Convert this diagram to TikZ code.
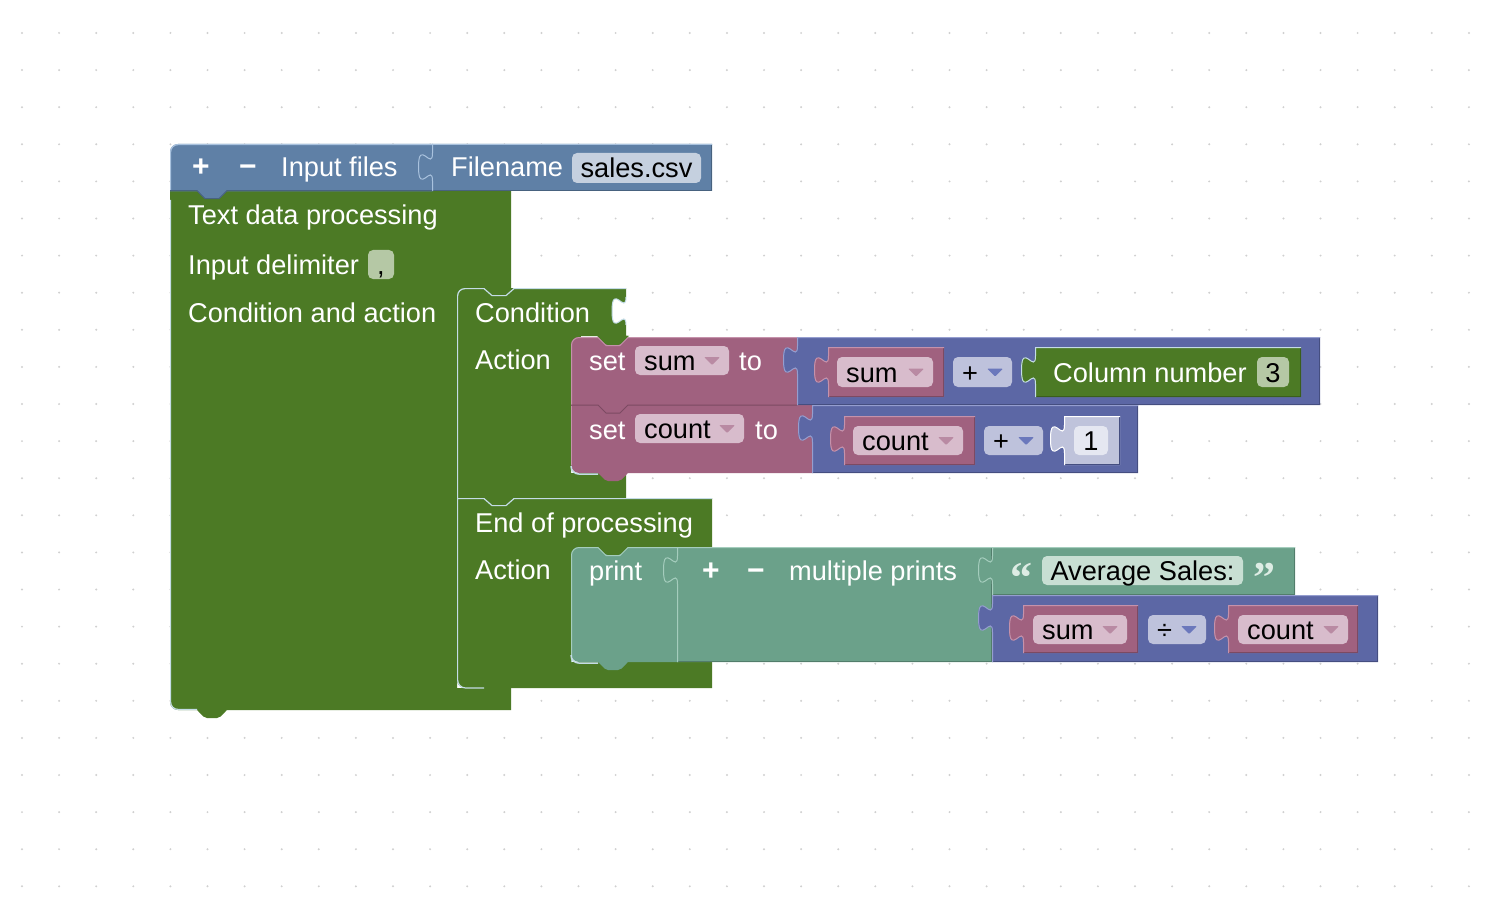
\documentclass[tikz,border=0pt]{standalone}
\usepackage{fontspec}
\setmainfont{Liberation Sans}
\newfontfamily\qfont{Liberation Serif}
\definecolor{bgdot}{HTML}{D0D0D0}
\definecolor{lst}{HTML}{5F80A6}
\definecolor{lstF}{HTML}{C5D0DF}
\definecolor{lstH}{HTML}{A9C2DE}
\definecolor{lstD}{HTML}{48627F}
\definecolor{grn}{HTML}{4C7A25}
\definecolor{grnF}{HTML}{B5C8A5}
\definecolor{grnH}{HTML}{C4DCE6}
\definecolor{grnD}{HTML}{3A5E1C}
\definecolor{mv}{HTML}{A0617F}
\definecolor{mvF}{HTML}{D8BCCC}
\definecolor{mvA}{HTML}{B98AA3}
\definecolor{mvH}{HTML}{C592AB}
\definecolor{mvD}{HTML}{7C4A62}
\definecolor{mth}{HTML}{5C67A5}
\definecolor{mthF}{HTML}{BEC2DC}
\definecolor{mthA}{HTML}{6B78BC}
\definecolor{mthH}{HTML}{959ECF}
\definecolor{mthD}{HTML}{454E80}
\definecolor{shd}{HTML}{BFC3DB}
\definecolor{shdF}{HTML}{E5E7F1}
\definecolor{tl}{HTML}{6BA18A}
\definecolor{tlF}{HTML}{C8DFD3}
\definecolor{tlH}{HTML}{A5CDBD}
\definecolor{tlD}{HTML}{527D6B}
\definecolor{tlQ}{HTML}{DDECE4}
% puzzle tab segments (x of edge, y of tab top)
\newcommand\bkTabDn[2]{.. controls ({#1},{#2+18.7}) and ({#1-14},{#2-14.9}) .. ({#1-14},{#2+14}) .. controls ({#1-14},{#2+42.9}) and ({#1},{#2+9.3}) .. ({#1},{#2+28})}
\newcommand\bkTabUp[2]{.. controls ({#1},{#2+9.3}) and ({#1-14},{#2+42.9}) .. ({#1-14},{#2+14}) .. controls ({#1-14},{#2-14.9}) and ({#1},{#2+18.7}) .. ({#1},{#2})}
% value block: fill, highlight, dark, x0,y0,x1,y1
\newcommand\bkVal[7]{%
  \fill[#1] ({#4},{#5}) -- ({#6},{#5}) -- ({#6},{#7}) -- ({#4},{#7}) -- ({#4},{#5+37}) \bkTabUp{#4}{#5+9} -- cycle;
  \draw[#3, line width=1pt] ({#4},{#7-0.5}) -- ({#6-0.5},{#7-0.5}) -- ({#6-0.5},{#5});
  \draw[#2, line width=1pt] ({#4+0.5},{#7}) -- ({#4+0.5},{#5+37}) \bkTabUp{#4+0.5}{#5+9} -- ({#4+0.5},{#5+0.5}) -- ({#6},{#5+0.5});}
% next tab: colour, block left x, bottom y
\newcommand\bkNext[3]{\fill[#1, rounded corners=2pt] ({#2+26},{#3-1.5}) -- ({#2+27},{#3}) -- ({#2+35},{#3+8}) -- ({#2+49},{#3+8}) -- ({#2+57},{#3}) -- ({#2+58},{#3-1.5}) -- cycle;}
% dropdown field: fill, arrow, x0,y0,x1,y1, text, name
\newcommand\bkDrop[8]{%
  \fill[#1, rounded corners=5pt] ({#3},{#4}) rectangle ({#5},{#6});
  \node[ftxt, anchor=base west] (#8) at ({#3+9},{(#4+#6)/2+10}) {#7};
  \fill[#2, rounded corners=1pt] ({#5-25},{(#4+#6)/2-3.5}) -- ({#5-9},{(#4+#6)/2-3.5}) -- ({#5-17},{(#4+#6)/2+4.5}) -- cycle;}
% text field: fill, x0,y0,x1,y1, text, name
\newcommand\bkFld[7]{%
  \fill[#1, rounded corners=5pt] ({#2},{#3}) rectangle ({#4},{#5});
  \node[ftxt] (#7) at ({(#2+#4)/2},{(#3+#5)/2+10}) {#6};}
\begin{document}
\begin{tikzpicture}[x=1pt,y=-1pt,
  lbl/.style={text=white, anchor=base west, inner sep=0pt, font=\fontsize{27.2}{30}\selectfont},
  ftxt/.style={text=black, anchor=base, inner sep=0pt, font=\fontsize{27.2}{30}\selectfont},
  pm/.style={text=white, anchor=base, inner sep=0pt, font=\fontsize{30}{32}\selectfont\bfseries},
  quo/.style={text=tlQ, anchor=base, inner sep=0pt, font=\fontsize{44}{46}\selectfont\qfont\bfseries}]
\useasboundingbox (0,0) rectangle (1502,920);
\fill[white] (0,0) rectangle (1502,920);
\foreach \i in {0,...,39}{\foreach \j in {0,...,23}{\fill[bgdot] ({22+37.1*\i},{33+37.1*\j}) circle[radius=1.1];}}

% ---- big green block
\fill[grn] (170,191) -- (511,191) -- (511,288) -- (457,288) -- (457,688) -- (511,688) -- (511,710) -- (178,710) .. controls (173.6,710) and (170,706.4) .. (170,702) -- cycle;
\bkNext{grn}{170}{710}
% ---- Condition block
\fill[grn] (457,288) -- (626,288) -- (626,297) \bkTabDn{626}{297} -- (626,336) -- (571,336) -- (571,473) -- (626,473) -- (626,498) -- (457,498) -- cycle;
\fill[grn] (570,335) rectangle (581,347);
% ---- End of processing block
\fill[grn] (457,498) -- (712,498) -- (712,547) -- (571,547) -- (571,662) -- (712,662) -- (712,688) -- (465,688) .. controls (460.6,688) and (457,684.4) .. (457,680) -- cycle;
\fill[grn] (570,546) rectangle (581,557);

% ---- set blocks
\fill[mv] (571,345) .. controls (571,340.6) and (574.6,337) .. (579,337) -- (797,337) -- (797,405.5) -- (571,405.5) -- cycle;
\fill[mv] (571,405) -- (812,405) -- (812,473) -- (579,473) .. controls (574.6,473) and (571,469.4) .. (571,465) -- cycle;
\bkNext{mv}{571}{473}
\bkNext{grn}{571}{337}
\draw[mvH, line width=1pt] (571.5,405) -- (571.5,345) .. controls (571.5,341) and (575,337.5) .. (579,337.5) -- (598,337.5) -- (606,345.5) -- (620,345.5) -- (628,337.5) -- (797,337.5);
\draw[mvD, line width=1pt] (571,405) -- (598,405) -- (606,413) -- (620,413) -- (628,405) -- (797,405);
\draw[mvH, line width=1pt] (571.5,405.5) -- (571.5,465);
\bkVal{mth}{mthH}{mthD}{797}{337}{1320}{405}
\bkVal{mth}{mthH}{mthD}{812}{405}{1138}{473}
\bkVal{mv}{mvH}{mvD}{828}{347}{944}{397}
\bkVal{grn}{grnH}{grnD}{1035}{347}{1301}{397}
\bkVal{mv}{mvH}{mvD}{844}{416}{975}{465}
\bkVal{shd}{white}{mthD}{1064}{416}{1120}{465}

% ---- print blocks
\fill[tl] (571,555) .. controls (571,550.6) and (574.6,547) .. (579,547) -- (678,547) -- (678,662) -- (579,662) .. controls (574.6,662) and (571,658.4) .. (571,654) -- cycle;
\bkNext{tl}{571}{662}
\bkNext{grn}{571}{547}
\draw[tlH, line width=1pt] (571.5,662) -- (571.5,555) .. controls (571.5,551) and (575,547.5) .. (579,547.5) -- (598,547.5) -- (606,555.5) -- (620,555.5) -- (628,547.5) -- (677,547.5);
\bkVal{tl}{tlH}{tlD}{677}{547}{992}{662}
\bkVal{tl}{tlH}{tlD}{992}{547}{1295}{595}
\bkVal{mth}{mthH}{mthD}{992}{595}{1378}{662}
\bkVal{mv}{mvH}{mvD}{1023}{605}{1138}{653}
\bkVal{mv}{mvH}{mvD}{1228}{605}{1358}{653}

% ---- top blue blocks
\fill[lst] (170,191.5) -- (170,152) .. controls (170,147.6) and (173.6,144) .. (178,144) -- (433,144) -- (433,191.5) -- cycle;
\bkVal{lst}{lstH}{lstD}{432}{144}{712}{191}
\bkNext{lst}{170}{191}
\draw[lstH, line width=1.2pt] (170.6,191) -- (170.6,152) .. controls (170.6,147.8) and (173.8,144.6) .. (178,144.6) -- (432,144.6);
\draw[lstD, line width=1pt] (170,190.6) -- (197,190.6) -- (205,198.6) -- (219,198.6) -- (227,190.6) -- (432,190.6);

% ---- green highlights
\draw[grnH, line width=1.2pt] (170.6,200) -- (170.6,702) .. controls (170.6,706.2) and (173.8,709.4) .. (178,709.4) -- (197,709.4);
\draw[grnH, line width=1.2pt] (457.6,498) -- (457.6,296) .. controls (457.6,291.8) and (460.8,288.6) .. (465,288.6) -- (484,288.6) -- (492,295.6) -- (506,295.6) -- (514,288.6) -- (626,288.6);
\draw[grnH, line width=1pt] (626,297) \bkTabDn{626}{297};
\draw[grnH, line width=1.2pt] (712,498.6) -- (514,498.6) -- (506,505.6) -- (492,505.6) -- (484,498.6) -- (457.6,498.6) -- (457.6,680) .. controls (457.6,684.4) and (461.2,688) .. (465.6,688) -- (484,688);
\draw[grnH, line width=1.5pt] (571,466) .. controls (571,471) and (574.5,474.2) .. (580,474.2) -- (598,474.2);
\draw[grnH, line width=1.5pt] (571,655) .. controls (571,660) and (574.5,663.2) .. (580,663.2) -- (598,663.2);

% ---- texts
\node[pm] (pl1) at (201,177) {+};
\node[pm] (mi1) at (248,177) {−};
\node[lbl] (inf) at (281,177) {Input files};
\node[lbl] (fnm) at (451,177) {Filename};
\bkFld{lstF}{572}{153}{701}{183}{sales.csv}{fcsv}
\node[lbl] (tdp) at (188,225) {Text data processing};
\node[lbl] (ind) at (188,274) {Input delimiter};
\bkFld{grnF}{368}{250}{394}{279}{,}{fdel}
\node[lbl] (caa) at (188,322) {Condition and action};
\node[lbl] (cnd) at (475,322) {Condition};
\node[lbl] (act1) at (475,369) {Action};
\node[lbl] (set1) at (589,370) {set};
\bkDrop{mvF}{mvA}{635}{346}{729}{375}{sum}{dsum1}
\node[lbl] (to1) at (739,370) {to};
\node[lbl] (set2) at (589,439) {set};
\bkDrop{mvF}{mvA}{635}{414}{744}{443}{count}{dcnt1}
\node[lbl] (to2) at (755,439) {to};
\bkDrop{mvF}{mvA}{837}{357}{933}{387}{sum}{dsum2}
\bkDrop{mthF}{mthA}{953}{357}{1012}{387}{+}{op1}
\node[lbl] (col) at (1053,382) {Column number};
\bkFld{grnF}{1257}{357}{1289}{387}{3}{f3}
\bkDrop{mvF}{mvA}{853}{426}{963}{455}{count}{dcnt2}
\bkDrop{mthF}{mthA}{984}{426}{1043}{455}{+}{op2}
\bkFld{shdF}{1074}{426}{1108}{455}{1}{f1}
\node[lbl] (eop) at (475,532) {End of processing};
\node[lbl] (act2) at (475,579) {Action};
\node[lbl] (prt) at (589,580) {print};
\node[pm] (pl2) at (711,580) {+};
\node[pm] (mi2) at (756,580) {−};
\node[lbl] (mpr) at (789,580) {multiple prints};
\node[quo] (q1) at (1021,592) {“};
\bkFld{tlF}{1042}{556}{1243}{585}{Average Sales:}{favg}
\node[quo] (q2) at (1264,592) {”};
\bkDrop{mvF}{mvA}{1033}{615}{1127}{644}{sum}{dsum3}
\bkDrop{mthF}{mthA}{1148}{615}{1206}{644}{÷}{op3}
\bkDrop{mvF}{mvA}{1238}{615}{1348}{644}{count}{dcnt3}
\end{tikzpicture}
\end{document}
